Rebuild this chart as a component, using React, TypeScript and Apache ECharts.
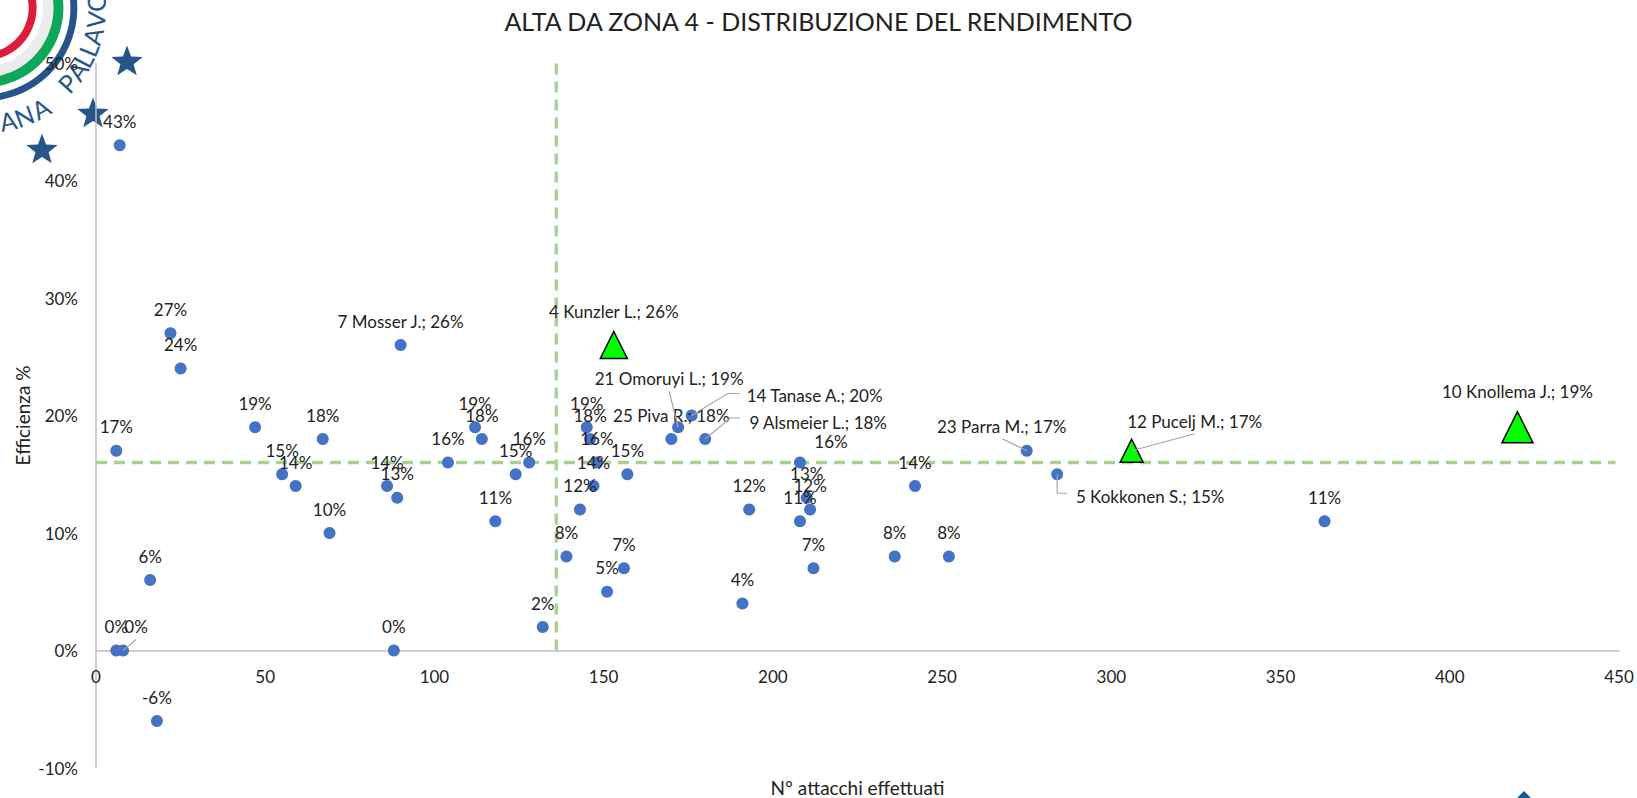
import React, { useEffect, useRef } from "react";
import * as echarts from "echarts";

const FONT = "Lato, Carlito, 'Open Sans', sans-serif";
const INK = "#222222";

const titleText = "ALTA DA ZONA 4 - DISTRIBUZIONE DEL RENDIMENTO";
const xAxisName = "N° attacchi effettuati";
const yAxisName = "Efficienza %";

const attacks = [7, 22, 25, 47, 6, 55, 59, 67, 69, 16, 6, 8, 88, 18, 90, 86, 89, 104, 112, 114, 118, 124, 128, 132, 139, 143, 145, 146, 148, 147, 157, 151, 156, 191, 193, 170, 172, 176, 180, 208, 210, 211, 208, 212, 236, 252, 242, 275, 284, 363];
const efficiency = [43, 27, 24, 19, 17, 15, 14, 18, 10, 6, 0, 0, 0, -6, 26, 14, 13, 16, 19, 18, 11, 15, 16, 2, 8, 12, 19, 18, 16, 14, 15, 5, 7, 4, 12, 18, 19, 20, 18, 16, 13, 12, 11, 7, 8, 8, 14, 17, 15, 11];
const players: Record<number, string> = {
  14: "7 Mosser J.",
  35: "25 Piva R.",
  36: "21 Omoruyi L.",
  37: "14 Tanase A.",
  38: "9 Alsmeier L.",
  47: "23 Parra M.",
  48: "5 Kokkonen S.",
};

const topAttacks = [153, 306, 420];
const topEfficiency = [26, 17, 19];
const topPlayers = ["4 Kunzler L.", "12 Pucelj M.", "10 Knollema J."];

const medianAttacks = 136;
const medianEfficiency = 16;

// Presentation only
const topSymbolSizes = [27, 23, 31];
const blueLabelOffsets: Record<number, [number, number]> = {
  11: [13, 0],
  36: [-9, -25],
  37: [123, 4],
  38: [113, 7],
  39: [31, 3],
  47: [-25, 0],
  48: [93, 46],
};
const topLabelOffsets: Record<number, [number, number]> = { 1: [63, 2] };

// Leader lines: pixel bends relative to the point they leave from.
const blueLeaderBends: Record<number, number[][]> = {
  11: [[0, 0], [13, -11]],
  36: [[0, 0], [-9, -36]],
  37: [[0, 0], [36, -22], [48, -22]],
  38: [[0, 0], [25, -21], [35, -21]],
  47: [[0, 0], [-24.5, -12]],
  48: [[0, 0], [0, 19], [10, 19]],
};
const topLeaderBends: Record<number, number[][]> = {
  1: [[0, 0], [63, -17]],
};

function offsetLayout(offsets: Record<number, [number, number]>) {
  return (p: any) => {
    const o = offsets[p.dataIndex];
    return o ? { dx: o[0], dy: o[1] } : {};
  };
}

function leaderSeries(xs: number[], ys: number[], bends: Record<number, number[][]>) {
  const keys = Object.keys(bends).map(Number);
  return {
    type: "custom",
    silent: true,
    z: 5,
    data: keys.map((k) => [xs[k], ys[k], k]),
    encode: { x: 0, y: 1 },
    label: { show: false },
    renderItem: (_: any, api: any) => {
      const [px, py] = api.coord([api.value(0), api.value(1)]);
      const pts = bends[api.value(2)].map(([dx, dy]) => [px + dx, py + dy]);
      return {
        type: "polyline",
        shape: { points: pts },
        style: { stroke: "#a6a6a6", lineWidth: 1.2, fill: "none" },
      };
    },
  };
}

const starPoints = (cx: number, cy: number, R: number) => {
  const pts: number[][] = [];
  for (let i = 0; i < 10; i++) {
    const r = i % 2 === 0 ? R : R * 0.42;
    const a = -Math.PI / 2 + (i * Math.PI) / 5;
    pts.push([cx + r * Math.cos(a), cy + r * Math.sin(a)]);
  }
  return pts;
};

const LOGO_CX = -16;
const LOGO_CY = 8;
const logoRings = [
  { r: 52.6, r0: 44.7, fill: "#dc1c3c" },
  { r: 69.5, r0: 59, fill: "#ececec" },
  { r: 79.4, r0: 69.5, fill: "#0aa858" },
  { r: 93.3, r0: 86.4, fill: "#27558a" },
];
const logoLetters: [string, number, number][] = [
  ["A", 78, 115], ["N", 69.5, 115], ["A", 60.5, 115],
  ["P", 42, 112], ["A", 34, 112], ["L", 27.5, 112], ["L", 21.5, 112], ["A", 14.5, 112], ["V", 6, 112], ["O", -3, 112],
];
const logoStars = [[127, 62], [93, 114], [42, 150]];

function logoGraphics() {
  const out: any[] = [];
  for (const ring of logoRings) {
    out.push({ type: "ring", z: -10, silent: true, shape: { cx: LOGO_CX, cy: LOGO_CY, r: ring.r, r0: ring.r0 }, style: { fill: ring.fill } });
  }
  for (const [ch, deg, rad] of logoLetters) {
    const t = (deg * Math.PI) / 180;
    out.push({
      type: "text", z: -10, silent: true,
      x: LOGO_CX + rad * Math.cos(t), y: LOGO_CY + rad * Math.sin(t),
      rotation: ((90 - deg) * Math.PI) / 180,
      style: { text: ch, fill: "#27558a", font: `25px ${FONT}`, textAlign: "center", textVerticalAlign: "middle" },
    });
  }
  for (const [cx, cy] of logoStars) {
    out.push({ type: "polygon", z: -10, silent: true, shape: { points: starPoints(cx, cy, 16.5) }, style: { fill: "#27558a" } });
  }
  out.push({ type: "polygon", z: -10, silent: true, shape: { points: [[1524, 791], [1541, 808], [1507, 808]] }, style: { fill: "#0f5c96" } });
  return out;
}

const labelBase = { show: true, position: "top", color: INK, fontFamily: FONT, fontSize: 17 };

export default function App() {
  const ref = useRef<HTMLDivElement>(null);
  useEffect(() => {
    const chart = echarts.init(ref.current!, undefined, { renderer: "svg" });
    const blueData = attacks.map((x, i) => ({ value: [x, efficiency[i]], name: players[i] ?? "" }));
    const topData = topAttacks.map((x, i) => ({
      value: [x, topEfficiency[i]],
      name: topPlayers[i],
      symbolSize: topSymbolSizes[i],
    }));
    const fmt = (p: any) => (p.name ? `${p.name}; ${p.value[1]}%` : `${p.value[1]}%`);
    const dashed = { color: "#a9d18e", width: 3.3, type: [11, 7] };
    chart.setOption({
      animation: false,
      title: {
        text: titleText, left: "center", top: 3,
        textStyle: { fontFamily: FONT, fontSize: 25, fontWeight: "normal", color: INK },
      },
      graphic: { elements: logoGraphics() },
      grid: { left: 96, right: 18, top: 63, bottom: 30, containLabel: false, outerBoundsMode: "none" },
      xAxis: {
        type: "value", min: 0, max: 450, interval: 50,
        name: xAxisName, nameLocation: "middle", nameGap: 10, nameMoveOverlap: false,
        nameTextStyle: { fontFamily: FONT, fontSize: 19, color: INK },
        splitLine: { show: false }, axisTick: { show: false },
        axisLine: { onZero: true, lineStyle: { color: "#bfbfbf", width: 1.5 } },
        axisLabel: { fontFamily: FONT, fontSize: 17, color: INK, margin: -100 },
      },
      yAxis: {
        type: "value", min: -10, max: 50, interval: 10,
        name: yAxisName, nameLocation: "middle", nameRotate: 90, nameGap: 64, nameMoveOverlap: false,
        nameTextStyle: { fontFamily: FONT, fontSize: 19, color: INK },
        splitLine: { show: false }, axisTick: { show: false },
        axisLine: { onZero: false, lineStyle: { color: "#bfbfbf", width: 1.5 } },
        axisLabel: { fontFamily: FONT, fontSize: 17, color: INK, margin: 18, formatter: "{value}%" },
      },
      series: [
        {
          type: "line", silent: true, symbol: "none", z: 1, lineStyle: dashed,
          data: [[medianAttacks, 0], [medianAttacks, 50]],
        },
        {
          type: "line", silent: true, symbol: "none", z: 1, lineStyle: dashed,
          data: [[0, medianEfficiency], [449, medianEfficiency]],
        },
        {
          type: "scatter", name: "Giocatrici", z: 3, symbol: "circle", symbolSize: 12,
          itemStyle: { color: "#4472c4", opacity: 1 },
          data: blueData,
          label: { ...labelBase, distance: 9.5, formatter: fmt },
          labelLayout: offsetLayout(blueLabelOffsets),
        },
        {
          type: "scatter", name: "Migliori", z: 4, symbol: "triangle",
          itemStyle: { color: "#00ff00", opacity: 1, borderColor: "#000000", borderWidth: 1.5 },
          data: topData,
          label: { ...labelBase, distance: 11, formatter: fmt },
          labelLayout: offsetLayout(topLabelOffsets),
        },
        leaderSeries(attacks, efficiency, blueLeaderBends),
        leaderSeries(topAttacks, topEfficiency, topLeaderBends),
      ],
    });
    return () => chart.dispose();
  }, []);
  return <div ref={ref} style={{ position: "fixed", left: 0, top: 0, width: 1637, height: 798, background: "#fff" }} />;
}
